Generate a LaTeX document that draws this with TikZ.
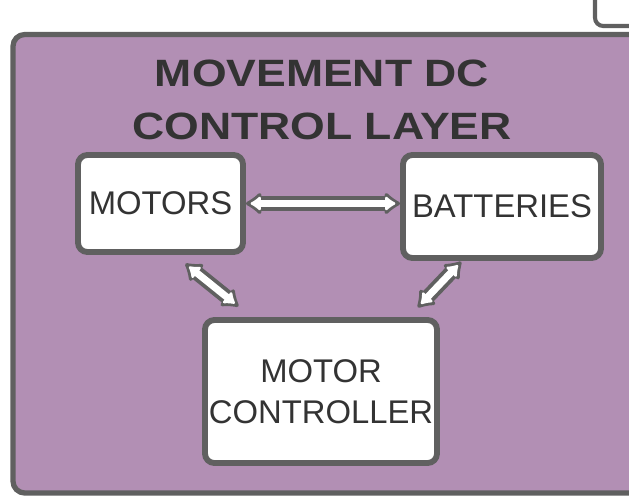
\documentclass[tikz,border=0pt]{standalone}
\usepackage{fontspec}
\setmainfont{Liberation Sans}
\newfontfamily\titlefont[FakeStretch=1.17]{Liberation Sans}
\usepackage{tikz}
\usetikzlibrary{arrows.meta, positioning, calc}
\definecolor{layerpurple}{RGB}{178, 143, 180}
\definecolor{edgegray}{RGB}{96, 96, 96}
\definecolor{labelgray}{RGB}{51, 51, 51}

\begin{document}
\begin{tikzpicture}[x=0.03cm, y=-0.03cm,
    unitbox/.style={draw=edgegray, fill=white, line width=5pt, rounded corners=8pt,
        inner sep=0pt, align=center, text=labelgray,
        font=\fontsize{28}{35}\selectfont},
    linkout/.style={draw=edgegray, line width=12.5pt,
        {Latex[length=15pt, width=23pt, round]}-{Latex[length=15pt, width=23pt, round]}},
    linkin/.style={draw=white, line width=6pt,
        {Latex[length=10pt, width=15pt, round]}-{Latex[length=10pt, width=15pt, round]}}]
    \clip (0,0) rectangle (629,497);

    % Layer frame
    \draw[fill=white, draw=edgegray, line width=3.5pt, rounded corners=7pt]
        (595,-20) -- (595,26) -- (660,26);
    \draw[fill=layerpurple, draw=edgegray, line width=4.5pt, rounded corners=10pt]
        (13,34.5) rectangle (680,493);

    % Title
    \node[text=labelgray, align=center, font=\titlefont\fontsize{32.5}{45}\selectfont\bfseries]
        (title) at (322,100) {MOVEMENT DC\\CONTROL LAYER};

    % Units
    \node[unitbox, minimum width=4.95cm, minimum height=2.91cm] (motors) at (160.5,203.5) {MOTORS};
    \node[unitbox, minimum width=5.94cm, minimum height=3.09cm] (batteries) at (502,206.5) {BATTERIES};
    \node[unitbox, minimum width=6.96cm, minimum height=4.29cm] (controller) at (321,391.5) {MOTOR\\CONTROLLER};

    % Links
    \draw[linkout, shorten <=0pt, shorten >=0pt] (motors.east) -- (motors.east -| batteries.west);
    \draw[linkin, shorten <=4pt, shorten >=4pt] (motors.east) -- (motors.east -| batteries.west);

    \draw[linkout, shorten <=12pt, shorten >=14.5pt] ($(motors.south)+(14,0)$) -- ($(controller.north)+(-69.4,0)$);
    \draw[linkin, shorten <=16pt, shorten >=18.5pt] ($(motors.south)+(14,0)$) -- ($(controller.north)+(-69.4,0)$);

    \draw[linkout, shorten <=1pt, shorten >=11.5pt] ($(batteries.south)+(-40,0)$) -- ($(controller.north)+(87.5,0)$);
    \draw[linkin, shorten <=5pt, shorten >=15.5pt] ($(batteries.south)+(-40,0)$) -- ($(controller.north)+(87.5,0)$);
\end{tikzpicture}
\end{document}
